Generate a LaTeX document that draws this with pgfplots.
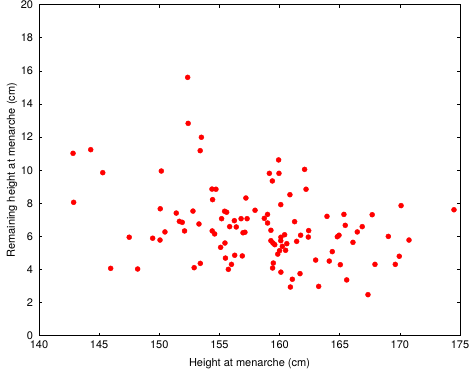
\documentclass[border=0pt]{standalone}
\usepackage{fontspec}
\setmainfont{TeX Gyre Heros}
\usepackage{pgfplots}
\pgfplotsset{compat=1.18}
\begin{document}
\begin{tikzpicture}
\begin{axis}[
  scale only axis, width=421pt, height=331pt,
  xmin=140, xmax=175, ymin=0, ymax=20,
  xtick={140,145,...,175}, ytick={0,2,...,20},
  tick align=inside, tick pos=both,
  major tick length=3pt,
  axis line style={line width=0.8pt}, every tick/.style={black, line width=0.6pt},
  /pgf/number format/assume math mode=true,
  tick label style={font=\fontsize{11}{12}\selectfont, inner sep=1pt},
  label style={font=\fontsize{11}{12}\selectfont},
  xlabel={Height at menarche (cm)},
  ylabel={Remaining height at menarche (cm)},
  xlabel style={yshift=-5pt},
  ylabel style={yshift=-1pt},
  xticklabel style={yshift=-4.2pt},
  yticklabel style={xshift=-4.7pt},
  clip=false,
]
\addplot[only marks, mark=*, mark size=2.5pt, color=red, mark options={draw=red, fill=red}] coordinates {
(152.36,15.61) (152.4,12.83) (153.5,11.99) (153.4,11.18) (142.83,11.02) (144.3,11.24)
(145.3,9.85) (150.17,9.95) (159.92,10.62) (159.15,9.81) (159.95,9.81) (162.08,10.05)
(159.4,9.35) (162.2,8.85) (160.86,8.52) (157.2,8.32) (160.1,7.92) (170.1,7.86)
(174.5,7.61) (157.96,7.58) (159.0,7.33) (165.35,7.33) (167.7,7.31) (163.94,7.21)
(156.8,7.07) (157.3,7.07) (158.73,7.09) (161.25,6.89) (159.0,6.81) (165.46,6.67)
(166.87,6.59) (162.42,6.35) (159.28,6.37) (166.46,6.27) (156.96,6.22) (157.12,6.25)
(160.42,6.1) (161.75,6.07) (164.94,6.07) (164.8,5.98) (169.04,6.0) (162.39,5.96)
(160.11,5.95) (170.76,5.78) (159.28,5.74) (160.1,5.74) (161.42,5.7) (159.45,5.6)
(166.1,5.64) (160.6,5.56) (159.6,5.5) (160.23,5.4) (160.0,5.14) (160.5,5.16)
(159.85,4.93) (164.38,5.08) (156.9,4.82) (169.95,4.8) (163.0,4.57) (164.13,4.51)
(159.48,4.39) (165.05,4.29) (167.93,4.31) (169.62,4.31) (159.42,4.09) (160.11,3.84)
(161.7,3.75) (161.06,3.41) (165.58,3.37) (160.9,2.94) (163.25,2.98) (167.35,2.48)
(154.38,8.86) (154.71,8.85) (154.43,8.22) (142.88,8.06) (150.08,7.67) (152.8,7.53)
(155.43,7.52) (155.6,7.46) (151.41,7.41) (155.18,7.07) (156.24,6.95) (151.67,6.91)
(151.91,6.85) (153.3,6.75) (155.85,6.59) (156.4,6.57) (152.1,6.33) (154.4,6.33)
(150.47,6.27) (154.6,6.15) (147.5,5.95) (149.45,5.89) (150.06,5.78) (155.46,5.6)
(155.1,5.34) (156.27,4.86) (155.5,4.69) (153.41,4.37) (145.96,4.07) (148.2,4.03)
(152.9,4.11) (156.0,4.31) (155.74,4.01)
};
\end{axis}
\pgfresetboundingbox
\path (-39pt,-38.3pt) rectangle (431pt,335.7pt);
\end{tikzpicture}
\end{document}
